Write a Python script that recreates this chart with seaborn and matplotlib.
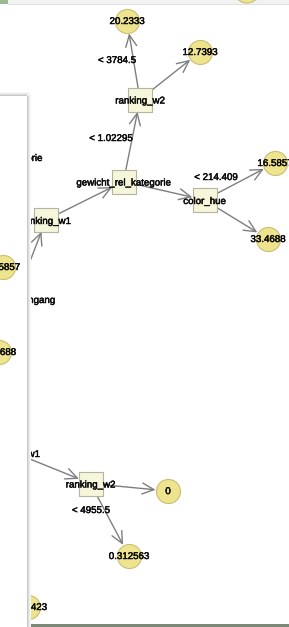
import matplotlib
matplotlib.use("Agg")
import matplotlib.pyplot as plt
from matplotlib.patches import Rectangle, Circle
import matplotlib.patheffects as pe
import pandas as pd
import seaborn as sns

sns.set_theme(style="white")
plt.rcParams['font.family'] = ['Liberation Sans', 'DejaVu Sans']

# ---------------- data ----------------
# split nodes (tree view, right window)
split_names = ["ranking_w2", "gewicht_rel_kategorie", "ranking_w1", "color_hue", "ranking_w2",
               "gewicht_rel_kategorie", "eingang", "ranking_w1"]
split_x = [140, 123.5, 46, 204.5, 90.5, -5, 15, 15]
split_y = [99.5, 181.5, 220, 200, 483.5, 157, 300, 453]

# leaf nodes (predicted values)
leaf_names = ["20.2333", "12.7393", "16.5857", "33.4688", "0", "0.312563", "4423"]
leaf_x = [127, 200, 275, 268, 168, 129, 28]
leaf_y = [21, 52, 163, 239, 491, 556, 607]

# edges: (kind_from, idx_from, kind_to, idx_to)
edges = [("s", 0, "l", 0), ("s", 0, "l", 1),
         ("s", 1, "s", 0), ("s", 1, "s", 3),
         ("s", 2, "s", 1), ("s", 2, "s", 5), ("s", 6, "s", 2),
         ("s", 3, "l", 2), ("s", 3, "l", 3),
         ("s", 7, "s", 4), ("s", 4, "l", 4), ("s", 4, "l", 5)]

edge_labels = ["< 3784.5", "< 1.02295", "< 214.409", "< 4955.5"]
edge_label_x = [117, 111, 216, 91]
edge_label_y = [60, 138, 177, 510]

# front (left) window content
front_names = ["16.5857", "33.4688"]
front_x = [3, -1]
front_y = [267, 352]

# ---------------- figure ----------------
W, H = 289, 627
fig = plt.figure(figsize=(W / 100, H / 100), dpi=100)
ax = fig.add_axes([0, 0, 1, 1])

LEAF_FC = "#EEE48E"
LEAF_EC = "#C8BE78"
BOX_FC = "#F6F6DA"
BOX_EC = "#B4B4A0"
EDGE_C = "#7E7E7E"
FS = 7.0
TXT = dict(fontsize=FS, color="#0A0A0A",
           path_effects=[pe.withStroke(linewidth=0.35, foreground="#0A0A0A")])

split_df = pd.DataFrame({"name": split_names, "x": split_x, "y": split_y})
leaf_df = pd.DataFrame({"name": leaf_names, "x": leaf_x, "y": leaf_y})
front_df = pd.DataFrame({"name": front_names, "x": front_x, "y": front_y})

def pos(kind, i):
    return (split_x[i], split_y[i]) if kind == "s" else (leaf_x[i], leaf_y[i])

for ka, ia, kb, ib in edges:
    ax.annotate("", xy=pos(kb, ib), xytext=pos(ka, ia),
                arrowprops=dict(arrowstyle="->,head_length=0.7,head_width=0.33",
                                color=EDGE_C, lw=1.0,
                                shrinkA=8.5, shrinkB=9.0),
                zorder=1)

sns.scatterplot(data=split_df, x="x", y="y", marker="s", s=275, color=BOX_FC,
                edgecolor=BOX_EC, linewidth=0.8, ax=ax, legend=False, zorder=2)
sns.scatterplot(data=leaf_df, x="x", y="y", marker="o", s=300, color=LEAF_FC,
                edgecolor=LEAF_EC, linewidth=0.8, ax=ax, legend=False, zorder=2)

for n, x, y in zip(split_names, split_x, split_y):
    if n == "eingang":
        ax.text(55, y, n, ha="right", va="center", zorder=3, **TXT)
    else:
        ax.text(x, y + 1, n, ha="center", va="center", zorder=3, **TXT)
for n, x, y in zip(leaf_names, leaf_x, leaf_y):
    if n == "4423":
        ax.text(47, y, n, ha="right", va="center", zorder=3, **TXT)
    else:
        ax.text(x, y, n, ha="center", va="center", zorder=3, **TXT)
for t, x, y in zip(edge_labels, edge_label_x, edge_label_y):
    ax.text(x, y, t, ha="center", va="center", zorder=3, **TXT)

# top strip (another window behind)
ax.add_patch(Rectangle((0, 0), W, 3.5, facecolor="#F2F2F2", edgecolor="none", zorder=4))
ax.add_patch(Rectangle((0, 0), 8, 4, facecolor="#9DB894", edgecolor="none", zorder=4.1))
ax.add_patch(Circle((247, -10), 13, facecolor=LEAF_FC, edgecolor=LEAF_EC, lw=0.8, zorder=4.2))
ax.plot([8, W], [3.5, 3.5], color="#E0E0E0", lw=0.8, zorder=4.1)

# bottom bar
ax.add_patch(Rectangle((27, 623.5), W - 27, 4, facecolor="#7E8878", edgecolor="none", zorder=4))

# front window on the left with shadow
for k, c in enumerate(["#C8C8C8", "#DDDDDD", "#ECECEC", "#F6F6F6"]):
    ax.add_patch(Rectangle((27 + k, 96 - k * 0.6), 1, H, facecolor=c, edgecolor="none", zorder=5 - k * 0.01))
    ax.add_patch(Rectangle((0, 95 - k), 27 + k, 1, facecolor=c, edgecolor="none", zorder=5 - k * 0.01))
ax.add_patch(Rectangle((0, 96), 27, H, facecolor="white", edgecolor="none", zorder=5.5))

sns.scatterplot(data=front_df, x="x", y="y", marker="o", s=300, color=LEAF_FC,
                edgecolor=LEAF_EC, linewidth=0.8, ax=ax, legend=False, zorder=6)
for n, x, y in zip(front_names, [20, 16], front_y):
    ax.text(x, y, n, ha="right", va="center", zorder=7, **TXT)

ax.set_xlim(0, W)
ax.set_ylim(H, 0)
ax.axis("off")
fig.savefig("out.png", dpi=100)
